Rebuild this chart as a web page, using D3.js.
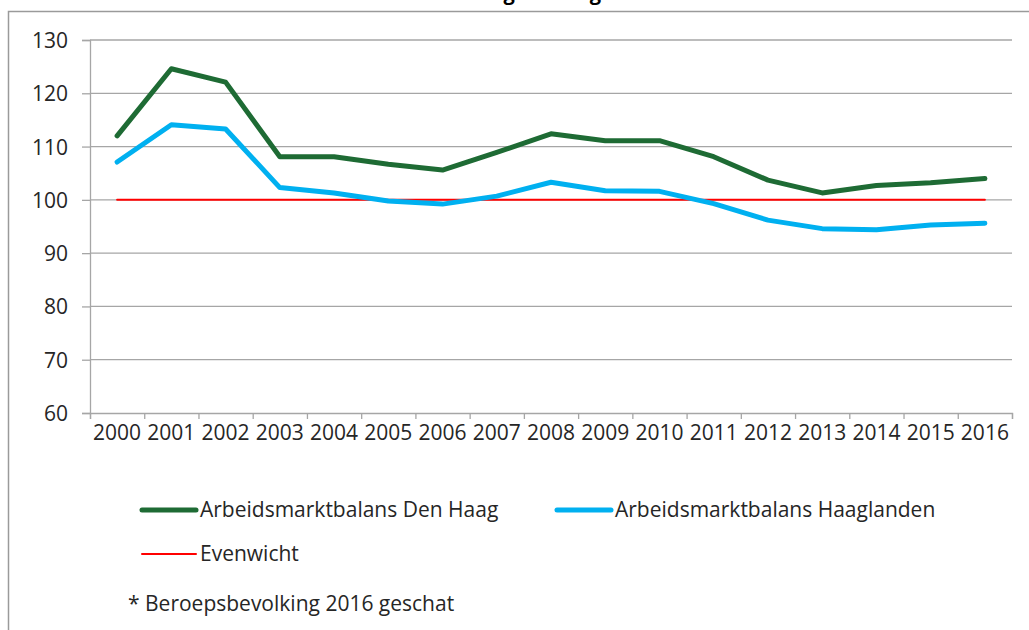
<!DOCTYPE html>
<html>
<head>
<meta charset="utf-8">
<script src="https://cdn.jsdelivr.net/npm/d3@7"></script>
<style>
  body { margin: 0; background: #fff; }
  text { font-family: "Open Sans", sans-serif; fill: #262626; }
</style>
</head>
<body>
<div id='chart'></div>

<script>
// data
years = ["2000", "2001", "2002", "2003", "2004", "2005", "2006", "2007", "2008",
         "2009", "2010", "2011", "2012", "2013", "2014", "2015", "2016"]
denHaag = [112.0, 124.6, 122.1, 108.1, 108.1, 106.7, 105.6, 108.9, 112.4,
           111.1, 111.1, 108.1, 103.7, 101.3, 102.7, 103.2, 104.0]
haaglanden = [107.1, 114.1, 113.3, 102.3, 101.3, 99.8, 99.2, 100.7, 103.3,
              101.7, 101.6, 99.3, 96.2, 94.6, 94.4, 95.3, 95.6]
evenwicht = years.map(function() { return 100 })
yTicks = [60, 70, 80, 90, 100, 110, 120, 130]

series = [
  { name: "Arbeidsmarktbalans Den Haag", values: denHaag, color: "#1e6b34", width: 5 },
  { name: "Arbeidsmarktbalans Haaglanden", values: haaglanden, color: "#00b0f0", width: 5 },
  { name: "Evenwicht", values: evenwicht, color: "#ff0000", width: 2 }
]

width = 1029
height = 630
plotLeft = 90
plotRight = 1012
plotTop = 40
plotBottom = 413
gridColor = "#a6a6a6"

svg = d3.select("#chart")
  .append("svg")
  .attr("width", width)
  .attr("height", height)

// title, mostly cut off at the top of the picture
svg.append("text")
  .attr("x", 440)
  .attr("y", 0)
  .attr("text-anchor", "middle")
  .style("font-weight", "bold")
  .style("font-size", "20px")
  .style("fill", "#000")
  .text("Arbeidsmarktbalans Den Haag en Haaglanden")

// chart frame
svg.append("rect")
  .attr("x", 8.5).attr("y", 11.5)
  .attr("width", 1100).attr("height", 700)
  .attr("fill", "none")
  .attr("stroke", "#9a9a9a")
  .attr("stroke-width", 1.5)

x = d3.scaleBand().domain(years).range([plotLeft, plotRight])
xEdge = d3.scaleLinear().domain([0, years.length]).range([plotLeft, plotRight])
y = d3.scaleLinear().domain([60, 130]).range([plotBottom, plotTop])

// gridlines
svg.append("g")
  .selectAll("line")
  .data(yTicks.slice(1))
  .enter()
  .append("line")
  .attr("x1", plotLeft).attr("x2", plotRight)
  .attr("y1", function(d) { return y(d) }).attr("y2", function(d) { return y(d) })
  .attr("stroke", gridColor)
  .attr("stroke-width", 1.3)

// y axis
yAxis = svg.append("g")
  .attr("transform", "translate(" + plotLeft + ",0)")
  .call(d3.axisLeft(y).tickValues(yTicks).tickSize(8).tickPadding(14))
yAxis.selectAll("text").style("font-size", "21px").attr("dy", "0.36em")

// x axis: ticks between categories, labels centred
xAxis = svg.append("g")
  .attr("transform", "translate(0," + plotBottom + ")")
  .call(d3.axisBottom(xEdge).tickValues(d3.range(0, years.length + 1)).tickSize(6).tickFormat(""))
svg.append("g")
  .attr("transform", "translate(0," + plotBottom + ")")
  .call(d3.axisBottom(x).tickSize(0).tickPadding(12))
  .call(function(g) { g.select(".domain").remove() })
  .selectAll("text").style("font-size", "21px")

svg.selectAll(".domain, .tick line")
  .attr("stroke", gridColor)
  .attr("stroke-width", 1.3)

line = d3.line()
  .x(function(d, i) { return x(years[i]) + x.bandwidth() / 2 })
  .y(function(d) { return y(d) })

// evenwicht first so the coloured series sit on top
svg.append("g")
  .selectAll("path")
  .data([series[2], series[1], series[0]])
  .enter()
  .append("path")
  .attr("d", function(d) { return line(d.values) })
  .attr("fill", "none")
  .attr("stroke", function(d) { return d.color })
  .attr("stroke-width", function(d) { return d.width })
  .attr("stroke-linejoin", "round")
  .attr("stroke-linecap", "round")

// legend
legendPos = [
  { x: 142, y: 510 },
  { x: 557, y: 510 },
  { x: 142, y: 554 }
]
legend = svg.append("g")
  .selectAll("g")
  .data(series)
  .enter()
  .append("g")
  .attr("transform", function(d, i) { return "translate(" + legendPos[i].x + "," + legendPos[i].y + ")" })
legend.append("line")
  .attr("x1", 0).attr("x2", 54)
  .attr("stroke", function(d) { return d.color })
  .attr("stroke-width", function(d) { return d.width })
  .attr("stroke-linecap", "round")
legend.append("text")
  .attr("x", 58)
  .attr("y", 7)
  .style("font-size", "21px")
  .text(function(d) { return d.name })

svg.append("text")
  .attr("x", 128)
  .attr("y", 611)
  .style("font-size", "21px")
  .text("* Beroepsbevolking 2016 geschat")
</script>
</body>
</html>
